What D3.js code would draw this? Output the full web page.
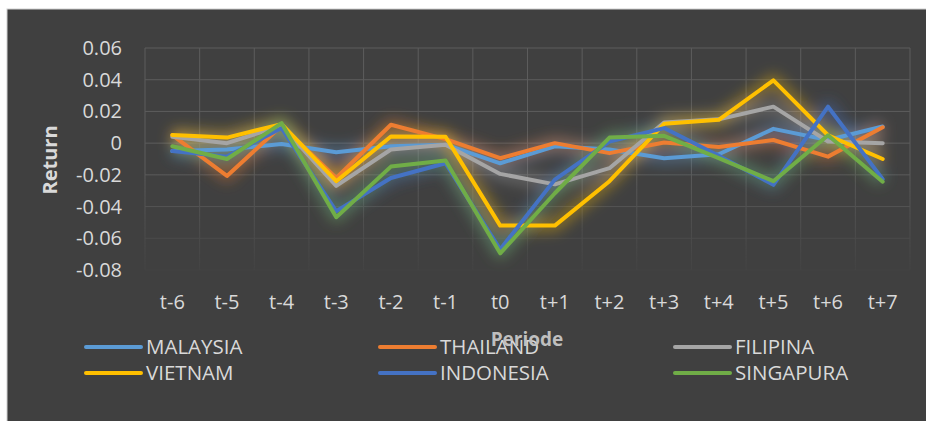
<!DOCTYPE html>
<html>
<head>
<meta charset="utf-8">
<script src="https://cdn.jsdelivr.net/npm/d3@7"></script>
<style>
  html, body { margin: 0; padding: 0; background: #fff; }
  svg { display: block; }
  text { font-family: "Open Sans", sans-serif; }
</style>
</head>
<body>
<svg id="chart" width="926" height="421"></svg>
<script>
// categories on the x axis
const periods = ["t-6", "t-5", "t-4", "t-3", "t-2", "t-1", "t0", "t+1", "t+2", "t+3", "t+4", "t+5", "t+6", "t+7"];

// y axis ticks
const yTicks = [0.06, 0.04, 0.02, 0, -0.02, -0.04, -0.06, -0.08];

// series values
const malaysia  = [-0.005, -0.004, -0.0005, -0.0057, -0.002, -0.001, -0.0127, -0.002, -0.004, -0.0095, -0.007, 0.009, 0.002, 0.0105];
const thailand  = [0.005, -0.0207, 0.011, -0.022, 0.0116, 0.0025, -0.0095, 0.0, -0.0063, 0.0004, -0.0025, 0.002, -0.0085, 0.010];
const filipina  = [0.004, 0.0, 0.011, -0.027, -0.004, -0.001, -0.0194, -0.026, -0.0158, 0.013, 0.015, 0.023, 0.001, 0.0];
const vietnam   = [0.0052, 0.0035, 0.012, -0.024, 0.0042, 0.004, -0.052, -0.052, -0.024, 0.0122, 0.0147, 0.0396, 0.005, -0.010];
const indonesia = [-0.005, -0.0085, 0.0095, -0.043, -0.022, -0.0127, -0.067, -0.023, 0.001, 0.0095, -0.008, -0.0263, 0.023, -0.0227];
const singapura = [-0.002, -0.010, 0.0126, -0.0467, -0.0148, -0.011, -0.0695, -0.0316, 0.0035, 0.0046, -0.0095, -0.024, 0.005, -0.0243];

const seriesNames = ["MALAYSIA", "THAILAND", "FILIPINA", "VIETNAM", "INDONESIA", "SINGAPURA"];
const seriesValues = [malaysia, thailand, filipina, vietnam, indonesia, singapura];
const seriesColors = ["#5b9bd5", "#ed7d31", "#a5a5a5", "#ffc000", "#4472c4", "#70ad47"];

const svg = d3.select("#chart");

// dark chart area
svg.append("rect")
    .attr("x", 7).attr("y", 9)
    .attr("width", 925).attr("height", 420)
    .attr("fill", "#404040")
    .attr("stroke", "#d0d0d0")
    .attr("stroke-width", 1);

const plot = { left: 145, right: 910, top: 48, bottom: 270 };

const x = d3.scaleBand().domain(periods).range([plot.left, plot.right]).padding(0);
const y = d3.scaleLinear().domain([-0.08, 0.06]).range([plot.bottom, plot.top]);

const defs = svg.append("defs");

// grid fades out towards the bottom
const fade = defs.append("linearGradient")
    .attr("id", "fade")
    .attr("gradientUnits", "userSpaceOnUse")
    .attr("x1", 0).attr("y1", plot.top)
    .attr("x2", 0).attr("y2", plot.bottom);
fade.append("stop").attr("offset", "0%").attr("stop-color", "#fff");
fade.append("stop").attr("offset", "55%").attr("stop-color", "#fff");
fade.append("stop").attr("offset", "100%").attr("stop-color", "#222");

const mask = defs.append("mask").attr("id", "gridMask")
    .attr("maskUnits", "userSpaceOnUse")
    .attr("x", 0).attr("y", 0).attr("width", 926).attr("height", 421);
mask.append("rect")
    .attr("x", plot.left - 2).attr("y", plot.top - 2)
    .attr("width", plot.right - plot.left + 4).attr("height", plot.bottom - plot.top + 4)
    .attr("fill", "url(#fade)");

// glow for the lines
const glow = defs.append("filter")
    .attr("id", "glow")
    .attr("x", "-20%").attr("y", "-40%")
    .attr("width", "140%").attr("height", "180%");
glow.append("feGaussianBlur").attr("stdDeviation", 7);

const grid = svg.append("g").attr("mask", "url(#gridMask)");

grid.selectAll("line.h")
    .data(yTicks)
    .join("line")
    .attr("class", "h")
    .attr("x1", plot.left).attr("x2", plot.right)
    .attr("y1", d => y(d)).attr("y2", d => y(d))
    .attr("stroke", "#5c5c5c")
    .attr("stroke-width", 1);

const bounds = periods.map(p => x(p)).concat([plot.right]);
grid.selectAll("line.v")
    .data(bounds)
    .join("line")
    .attr("class", "v")
    .attr("x1", d => d).attr("x2", d => d)
    .attr("y1", plot.top).attr("y2", plot.bottom)
    .attr("stroke", "#5c5c5c")
    .attr("stroke-width", 1);

// y axis labels
svg.append("g")
    .selectAll("text")
    .data(yTicks)
    .join("text")
    .attr("x", 122)
    .attr("y", d => y(d) + 7)
    .attr("text-anchor", "end")
    .attr("font-size", 20)
    .attr("fill", "#d9d9d9")
    .text(d => d3.format(".2f")(d).replace(/^0\.00$/, "0").replace("−", "-"));

// x axis labels
svg.append("g")
    .selectAll("text")
    .data(periods)
    .join("text")
    .attr("x", d => x(d) + x.bandwidth() / 2)
    .attr("y", 309)
    .attr("text-anchor", "middle")
    .attr("font-size", 20)
    .attr("fill", "#d9d9d9")
    .text(d => d);

// axis titles
svg.append("text")
    .attr("transform", "translate(57,160) rotate(-90)")
    .attr("text-anchor", "middle")
    .attr("font-size", 20)
    .attr("font-weight", "bold")
    .attr("fill", "#d9d9d9")
    .text("Return");

// lines
const line = d3.line()
    .x((d, i) => x(periods[i]) + x.bandwidth() / 2)
    .y(d => y(d));

const glows = svg.append("g").attr("filter", "url(#glow)");
seriesValues.forEach((vals, i) => {
    glows.append("path")
        .attr("d", line(vals))
        .attr("fill", "none")
        .attr("stroke", seriesColors[i])
        .attr("stroke-width", 12)
        .attr("stroke-linejoin", "round")
        .attr("opacity", 0.4);
});

const lines = svg.append("g");
seriesValues.forEach((vals, i) => {
    lines.append("path")
        .attr("d", line(vals))
        .attr("fill", "none")
        .attr("stroke", seriesColors[i])
        .attr("stroke-width", 4)
        .attr("stroke-linejoin", "round")
        .attr("stroke-linecap", "round");
});

// legend, 3 per row
const legend = svg.append("g");
const legendCols = [86, 380, 675];
const legendRows = [347, 373];
seriesNames.forEach((name, i) => {
    const lx = legendCols[i % 3];
    const ly = legendRows[Math.floor(i / 3)];
    legend.append("line")
        .attr("x1", lx).attr("x2", lx + 55)
        .attr("y1", ly).attr("y2", ly)
        .attr("stroke", seriesColors[i])
        .attr("stroke-width", 4)
        .attr("stroke-linecap", "round");
    legend.append("text")
        .attr("x", lx + 60)
        .attr("y", ly + 7)
        .attr("font-size", 20.5)
        .attr("fill", "#d9d9d9")
        .text(name);
});

// x axis title, drawn over the legend like the original
svg.append("text")
    .attr("x", 527)
    .attr("y", 346)
    .attr("text-anchor", "middle")
    .attr("font-size", 19)
    .attr("font-weight", "bold")
    .attr("fill", "#bfbfbf")
    .text("Periode");
</script>
</body>
</html>
